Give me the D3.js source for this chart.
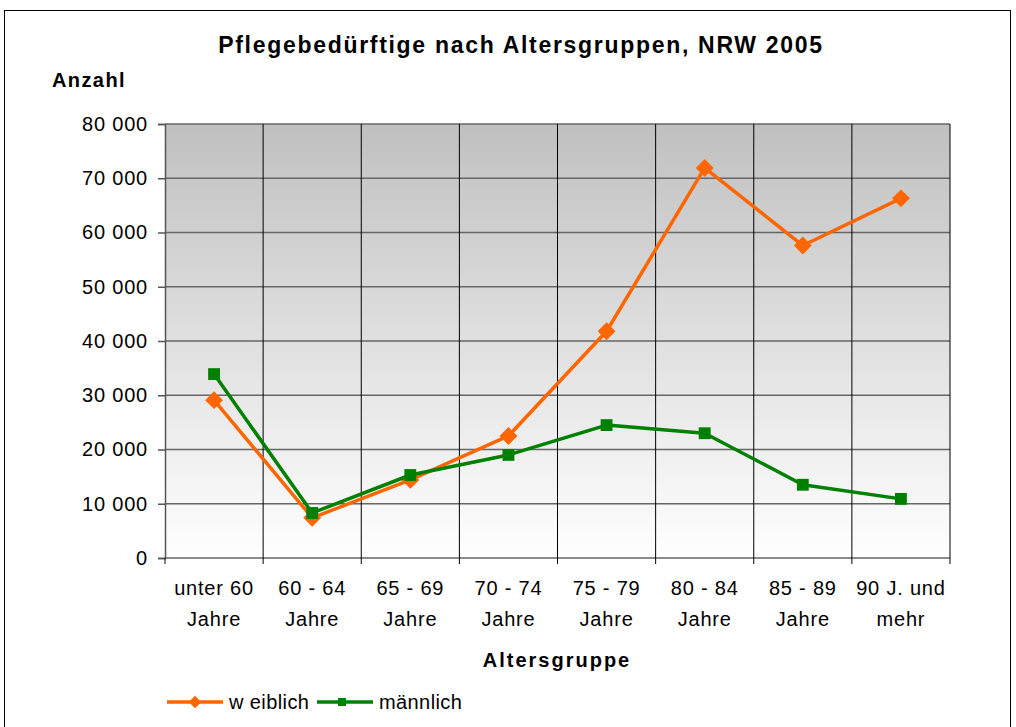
<!DOCTYPE html>
<html lang="de">
<head>
<meta charset="UTF-8">
<title>Pflegebedürftige nach Altersgruppen, NRW 2005</title>
<style>
  body, html { margin: 0; padding: 0; background: #fff; }
  svg { display: block; font-family: "Liberation Sans", Arial, sans-serif; }
</style>
</head>
<body>
<svg width="1016" height="727"></svg>
<script src="https://d3js.org/d3.v7.min.js"></script>
<script>
  // data
  const categories = [
    ["unter 60", "Jahre"], ["60 - 64", "Jahre"], ["65 - 69", "Jahre"], ["70 - 74", "Jahre"],
    ["75 - 79", "Jahre"], ["80 - 84", "Jahre"], ["85 - 89", "Jahre"], ["90 J. und", "mehr"]
  ];
  const weiblich = [29100, 7400, 14400, 22500, 41800, 71900, 57600, 66300];
  const maennlich = [33900, 8300, 15300, 19000, 24500, 23000, 13500, 10900];
  const yTicks = [0, 10000, 20000, 30000, 40000, 50000, 60000, 70000, 80000];

  const svg = d3.select("svg");
  const plot = { left: 165, right: 950, top: 124, bottom: 558 };

  // outer frame
  svg.append("rect").attr("x", 4.5).attr("y", 10.5).attr("width", 1006).attr("height", 730)
    .attr("fill", "none").attr("stroke", "#000").attr("stroke-width", 1);

  const idx = d3.range(categories.length);
  const x = d3.scaleBand().domain(idx).range([plot.left, plot.right]).padding(0);
  const y = d3.scaleLinear().domain([0, 80000]).range([plot.bottom, plot.top]);
  const cx = i => x(i) + x.bandwidth() / 2;

  // background gradient
  const grad = svg.append("defs").append("linearGradient")
    .attr("id", "bg").attr("x1", 0).attr("y1", 0).attr("x2", 0).attr("y2", 1);
  grad.append("stop").attr("offset", "0%").attr("stop-color", "#c0c0c0");
  grad.append("stop").attr("offset", "100%").attr("stop-color", "#ffffff");
  svg.append("rect").attr("x", plot.left).attr("y", plot.top)
    .attr("width", plot.right - plot.left).attr("height", plot.bottom - plot.top)
    .attr("fill", "url(#bg)");

  // horizontal gridlines
  svg.append("g").selectAll("line").data(yTicks).join("line")
    .attr("x1", plot.left).attr("x2", plot.right)
    .attr("y1", d => y(d)).attr("y2", d => y(d))
    .attr("stroke", "#666").attr("stroke-width", 1.5);

  // vertical gridlines at category boundaries
  const bounds = idx.slice(1).map(i => x(i)).concat([plot.right]);
  svg.append("g").selectAll("line").data(bounds).join("line")
    .attr("x1", d => d).attr("x2", d => d)
    .attr("y1", plot.top).attr("y2", plot.bottom + 6)
    .attr("stroke", "#000").attr("stroke-width", 1);

  // y axis
  const fmt = d => d3.format(",")(d).replace(/,/g, " ");
  const gy = svg.append("g").attr("transform", `translate(${plot.left},0)`)
    .call(d3.axisLeft(y).tickValues(yTicks).tickFormat(fmt).tickSize(7).tickPadding(10));
  gy.select(".domain").attr("stroke", "#555").attr("stroke-width", 1.5);
  gy.selectAll(".tick line").attr("stroke", "#555").attr("stroke-width", 1.5);
  gy.selectAll(".tick text").attr("font-size", 20).attr("letter-spacing", 0.8)
    .attr("fill", "#000").attr("font-family", "Liberation Sans, Arial, sans-serif");

  // tick at left edge of x axis
  svg.append("line").attr("x1", plot.left).attr("x2", plot.left)
    .attr("y1", plot.bottom).attr("y2", plot.bottom + 6).attr("stroke", "#000");

  // x labels (two lines)
  const xl = svg.append("g").selectAll("text").data(categories).join("text")
    .attr("text-anchor", "middle").attr("font-size", 20).attr("letter-spacing", 0.8);
  xl.append("tspan").attr("x", (d, i) => cx(i)).attr("y", 595).text(d => d[0]);
  xl.append("tspan").attr("x", (d, i) => cx(i)).attr("y", 626).text(d => d[1]);

  // lines
  const line = d3.line().x((d, i) => cx(i)).y(d => y(d));
  const series = [
    { name: "weiblich", label: "w eiblich", values: weiblich, color: "#ff6600", diamond: true, size: 160 },
    { name: "männlich", label: "männlich", values: maennlich, color: "#008000", diamond: false, size: 140 }
  ];

  series.forEach(s => {
    svg.append("path").datum(s.values).attr("d", line)
      .attr("fill", "none").attr("stroke", s.color).attr("stroke-width", 3.5)
      .attr("stroke-linejoin", "round");
    const sym = d3.symbol().type(d3.symbolSquare).size(s.size);
    svg.append("g").selectAll("path").data(s.values).join("path")
      .attr("d", sym)
      .attr("transform", (d, i) => `translate(${cx(i)},${y(d)})` + (s.diamond ? " rotate(45)" : ""))
      .attr("fill", s.color);
  });

  // titles
  svg.append("text").attr("x", 521).attr("y", 53).attr("text-anchor", "middle")
    .attr("font-size", 23).attr("font-weight", "bold").attr("letter-spacing", 1.7)
    .text("Pflegebedürftige nach Altersgruppen, NRW 2005");
  svg.append("text").attr("x", 52).attr("y", 87)
    .attr("font-size", 20).attr("font-weight", "bold").attr("letter-spacing", 1.4).text("Anzahl");
  svg.append("text").attr("x", 557).attr("y", 667).attr("text-anchor", "middle")
    .attr("font-size", 20).attr("font-weight", "bold").attr("letter-spacing", 2).text("Altersgruppe");

  // legend
  const leg = svg.append("g").attr("transform", "translate(167,702)");
  series.forEach((s, k) => {
    const g = leg.append("g").attr("transform", `translate(${k * 150},0)`);
    g.append("line").attr("x1", 0).attr("x2", 56).attr("y1", 0).attr("y2", 0)
      .attr("stroke", s.color).attr("stroke-width", 3.5);
    const sym = d3.symbol().type(d3.symbolSquare).size(s.diamond ? 80 : 64);
    g.append("path").attr("d", sym)
      .attr("transform", `translate(${s.diamond ? 28 : 25},0)` + (s.diamond ? " rotate(45)" : ""))
      .attr("fill", s.color);
    g.append("text").attr("x", 62).attr("y", 7).attr("font-size", 20)
      .attr("letter-spacing", 0.4).text(s.label);
  });
</script>
</body>
</html>
